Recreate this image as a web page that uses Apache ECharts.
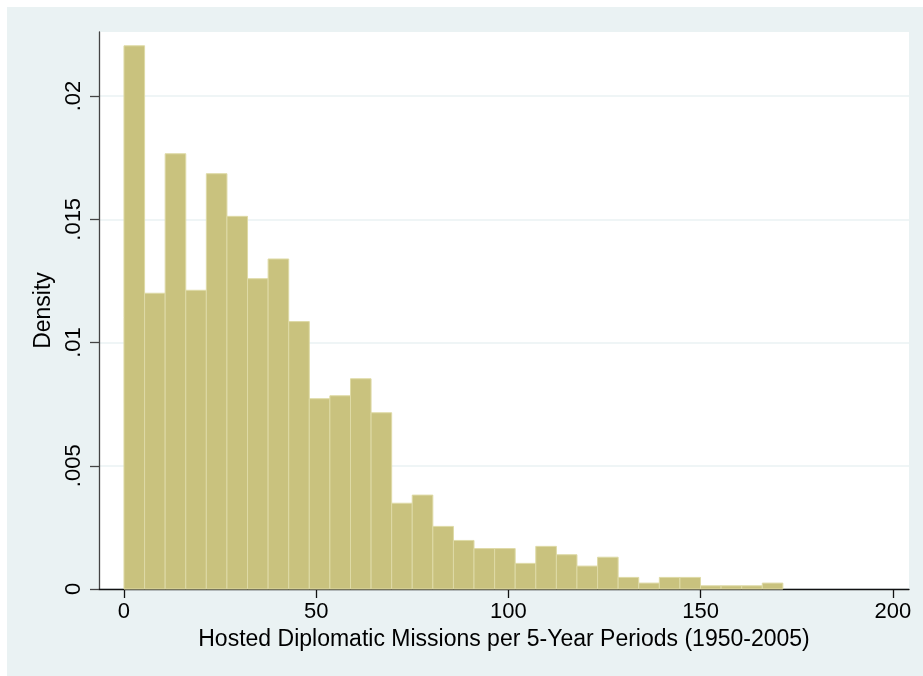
<!DOCTYPE html>
<html>
<head>
<meta charset="utf-8">
<script src="https://cdn.jsdelivr.net/npm/echarts@6/dist/echarts.min.js"></script>
<style>
html,body{margin:0;padding:0;background:#ffffff;}
#chart{position:absolute;left:7px;top:7px;width:916px;height:669px;}
</style>
</head>
<body>
<div id="chart"></div>
<script>
// Histogram bin edges (hosted missions)
var binEdges = [0, 5.36, 10.71, 16.07, 21.42, 26.78, 32.14, 37.49, 42.85, 48.2, 53.56, 58.92, 64.27, 69.63, 74.98, 80.34, 85.7, 91.05, 96.41, 101.76, 107.12, 112.48, 117.83, 123.19, 128.54, 133.9, 139.26, 144.61, 149.97, 155.32, 160.68, 166.04, 171.39];
// Density per bin
var densities = [0.02204, 0.0120, 0.01766, 0.01212, 0.01685, 0.01512, 0.01259, 0.01339, 0.01085, 0.00772, 0.00784, 0.00853, 0.00715, 0.00348, 0.00381, 0.00254, 0.00197, 0.00164, 0.00164, 0.00104, 0.00173, 0.00139, 0.00093, 0.00129, 0.00047, 0.00024, 0.00047, 0.00047, 0.00013, 0.00013, 0.00013, 0.00024];
// Tick values and labels
var xTicks = [0, 50, 100, 150, 200];
var yTicks = [0, 0.005, 0.01, 0.015, 0.02];
var yTickLabels = ['0', '.005', '.01', '.015', '.02'];
var xTitle = 'Hosted Diplomatic Missions per 5-Year Periods (1950-2005)';
var yTitle = 'Density';

var data = [];
for (var i = 0; i < densities.length; i++) {
  data.push([binEdges[i], binEdges[i + 1], densities[i]]);
}

var FONT = 'Liberation Sans, Arial, Helvetica, sans-serif';
var chart = echarts.init(document.getElementById('chart'), null, {renderer: 'canvas'});
chart.setOption({
  backgroundColor: '#EAF2F3',
  animation: false,
  textStyle: {fontFamily: FONT},
  grid: {
    left: 92, top: 25, right: 14, bottom: 87,
    show: true, backgroundColor: '#ffffff', borderWidth: 0
  },
  xAxis: {
    type: 'value',
    min: -6.5, max: 204.2,
    name: xTitle,
    nameLocation: 'middle',
    nameGap: 39,
    nameTextStyle: {fontSize: 23, color: '#000', fontFamily: FONT},
    axisLine: {show: true, onZero: false, lineStyle: {color: '#111', width: 1.3}},
    axisTick: {show: true, length: 9, customValues: xTicks, lineStyle: {color: '#111', width: 1.3}},
    axisLabel: {customValues: xTicks, fontSize: 22, color: '#000', margin: 12, fontFamily: FONT},
    splitLine: {show: false}
  },
  yAxis: {
    type: 'value',
    min: 0, max: 0.0226,
    name: yTitle,
    nameLocation: 'middle',
    nameGap: 41,
    nameTextStyle: {fontSize: 23, color: '#000', fontFamily: FONT},
    axisLine: {show: true, onZero: false, lineStyle: {color: '#444', width: 1.3}},
    axisTick: {show: true, length: 9, customValues: yTicks, lineStyle: {color: '#444', width: 1.3}},
    axisLabel: {
      customValues: yTicks, rotate: 90, fontSize: 22, color: '#000', margin: 14, fontFamily: FONT,
      formatter: function (v) {
        for (var k = 0; k < yTicks.length; k++) { if (Math.abs(yTicks[k] - v) < 1e-9) return yTickLabels[k]; }
        return '';
      }
    },
    splitLine: {show: true, lineStyle: {color: '#EAF2F3', width: 1.5}}
  },
  series: [{
    type: 'custom',
    data: data,
    encode: {x: [0, 1], y: 2},
    renderItem: function (params, api) {
      var p0 = api.coord([api.value(0), 0]);
      var p1 = api.coord([api.value(1), api.value(2)]);
      return {
        type: 'rect',
        shape: {x: p0[0], y: p1[1], width: p1[0] - p0[0], height: p0[1] - p1[1]},
        style: {fill: '#C9C27E', stroke: '#DEDAA6', lineWidth: 1}
      };
    }
  }]
});
</script>
</body>
</html>
